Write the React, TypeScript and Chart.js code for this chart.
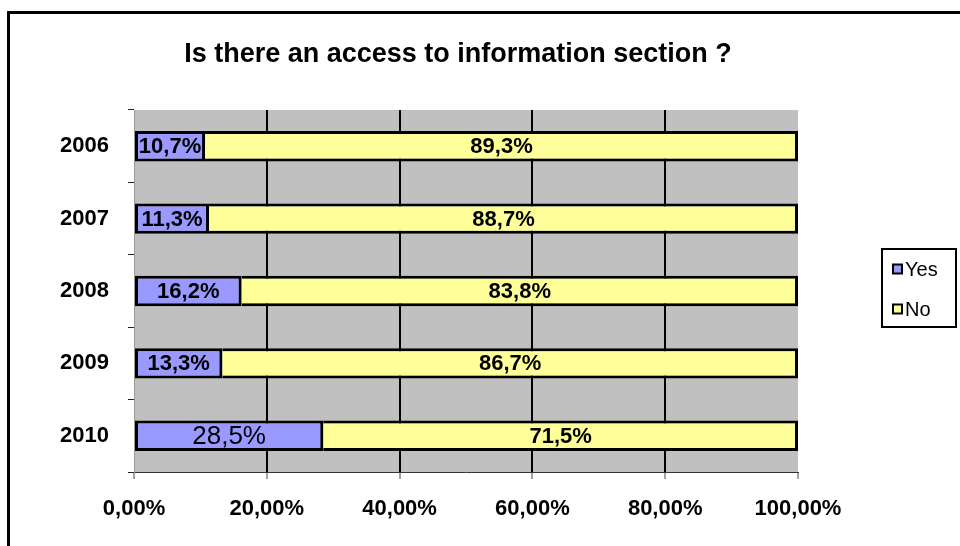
import React, { useEffect, useRef } from "react";
import { Chart, registerables } from "chart.js";

Chart.register(...registerables);

const titleText = "Is there an access to information section ?";
const categories = ["2006", "2007", "2008", "2009", "2010"];
const yesValues = [10.7, 11.3, 16.2, 13.3, 28.5];
const noValues = [89.3, 88.7, 83.8, 86.7, 71.5];
const xTickValues = [0, 20, 40, 60, 80, 100];
const xTickLabels = ["0,00%", "20,00%", "40,00%", "60,00%", "80,00%", "100,00%"];
const seriesNames = ["Yes", "No"];
const seriesColors = ["#9999FF", "#FFFF99"];

const FONT = "Arial, 'Liberation Sans', Helvetica, sans-serif";

const fmt = (v: number) => v.toFixed(1).replace(".", ",") + "%";

const decorPlugin = {
  id: "decor",
  beforeDraw(chart: any) {
    const { ctx, chartArea } = chart;
    ctx.save();
    ctx.fillStyle = "#ffffff";
    ctx.fillRect(0, 0, chart.width, chart.height);
    ctx.fillStyle = "#C0C0C0";
    ctx.fillRect(chartArea.left, chartArea.top, chartArea.right - chartArea.left, chartArea.bottom - chartArea.top);
    ctx.restore();
  },
  afterDraw(chart: any) {
    const { ctx } = chart;
    ctx.save();
    // outer border
    ctx.strokeStyle = "#000";
    ctx.lineWidth = 3;
    ctx.strokeRect(8.5, 12.5, 1000, 1000);
    // title
    ctx.fillStyle = "#000";
    ctx.font = `bold 27px ${FONT}`;
    ctx.textAlign = "center";
    ctx.textBaseline = "alphabetic";
    ctx.fillText(titleText, 458, 62);
    // data labels
    chart.data.datasets.forEach((ds: any, di: number) => {
      const meta = chart.getDatasetMeta(di);
      meta.data.forEach((bar: any, i: number) => {
        const v = ds.data[i];
        const big = di === 0 && i === 4;
        ctx.font = big ? `26px ${FONT}` : `bold 22px ${FONT}`;
        ctx.textAlign = "center";
        ctx.textBaseline = "middle";
        ctx.fillStyle = "#000";
        const cx = (bar.x + bar.base) / 2;
        ctx.fillText(fmt(v), cx, bar.y + 1);
      });
    });
    // legend
    ctx.lineWidth = 2;
    ctx.strokeStyle = "#000";
    ctx.strokeRect(882, 249, 74, 78);
    const ys = [269, 309];
    seriesNames.forEach((name, i) => {
      ctx.fillStyle = seriesColors[i];
      ctx.fillRect(893, ys[i] - 4.5, 9, 9);
      ctx.lineWidth = 2;
      ctx.strokeRect(893, ys[i] - 4.5, 9, 9);
      ctx.fillStyle = "#000";
      ctx.font = `20px ${FONT}`;
      ctx.textAlign = "left";
      ctx.textBaseline = "middle";
      ctx.fillText(name, 905, ys[i] + 1);
    });
    ctx.restore();
  },
};

export default function App() {
  const ref = useRef<HTMLCanvasElement | null>(null);
  useEffect(() => {
    if (!ref.current) return;
    const chart = new Chart(ref.current, {
      type: "bar",
      data: {
        labels: categories,
        datasets: [
          {
            label: seriesNames[0],
            data: yesValues,
            backgroundColor: seriesColors[0],
            borderColor: "#000",
            borderWidth: { top: 3, bottom: 3, left: 3, right: 3 },
            borderSkipped: false,
            categoryPercentage: 1,
            barPercentage: 0.42,
          },
          {
            label: seriesNames[1],
            data: noValues,
            backgroundColor: seriesColors[1],
            borderColor: "#000",
            borderWidth: { top: 3, bottom: 3, left: 0, right: 3 },
            borderSkipped: false,
            categoryPercentage: 1,
            barPercentage: 0.42,
          },
        ],
      },
      options: {
        indexAxis: "y",
        animation: false,
        responsive: false,
        maintainAspectRatio: false,
        layout: { padding: { left: 0, right: 162, top: 110, bottom: 0 } },
        plugins: {
          legend: { display: false },
          title: { display: false },
          tooltip: { enabled: false },
        },
        scales: {
          x: {
            stacked: true,
            min: 0,
            max: 100,
            afterFit: (s: any) => {
              s.height = 74;
            },
            afterBuildTicks: (s: any) => {
              s.ticks = xTickValues.map((v) => ({ value: v }));
            },
            ticks: {
              callback: (_v: any, i: number) => xTickLabels[i],
              color: "#000",
              font: { family: FONT, size: 22, weight: "bold" },
              padding: 17,
              maxRotation: 0,
            },
            grid: {
              color: (c: any) =>
                c.tick && (c.tick.value === 0 || c.tick.value === 100) ? "rgba(0,0,0,0)" : "#000",
              lineWidth: 2,
              tickColor: "#444",
              tickWidth: 1,
              tickLength: 7,
            },
            border: { display: true, color: "#333", width: 1 },
          },
          y: {
            stacked: true,
            afterFit: (s: any) => {
              s.width = 134;
            },
            ticks: {
              color: "#000",
              font: { family: FONT, size: 22, weight: "bold" },
              padding: 19,
            },
            grid: {
              drawOnChartArea: false,
              drawTicks: true,
              tickLength: 6,
              color: "#222",
              lineWidth: 1,
              offset: true,
            },
            border: { display: true, color: "#999", width: 1 },
          },
        },
      },
      plugins: [decorPlugin],
    } as any);
    return () => chart.destroy();
  }, []);
  return (
    <div style={{ position: "fixed", left: 0, top: 0, width: 960, height: 546 }}>
      <canvas ref={ref} width={960} height={546} style={{ width: 960, height: 546, display: "block" }} />
    </div>
  );
}
